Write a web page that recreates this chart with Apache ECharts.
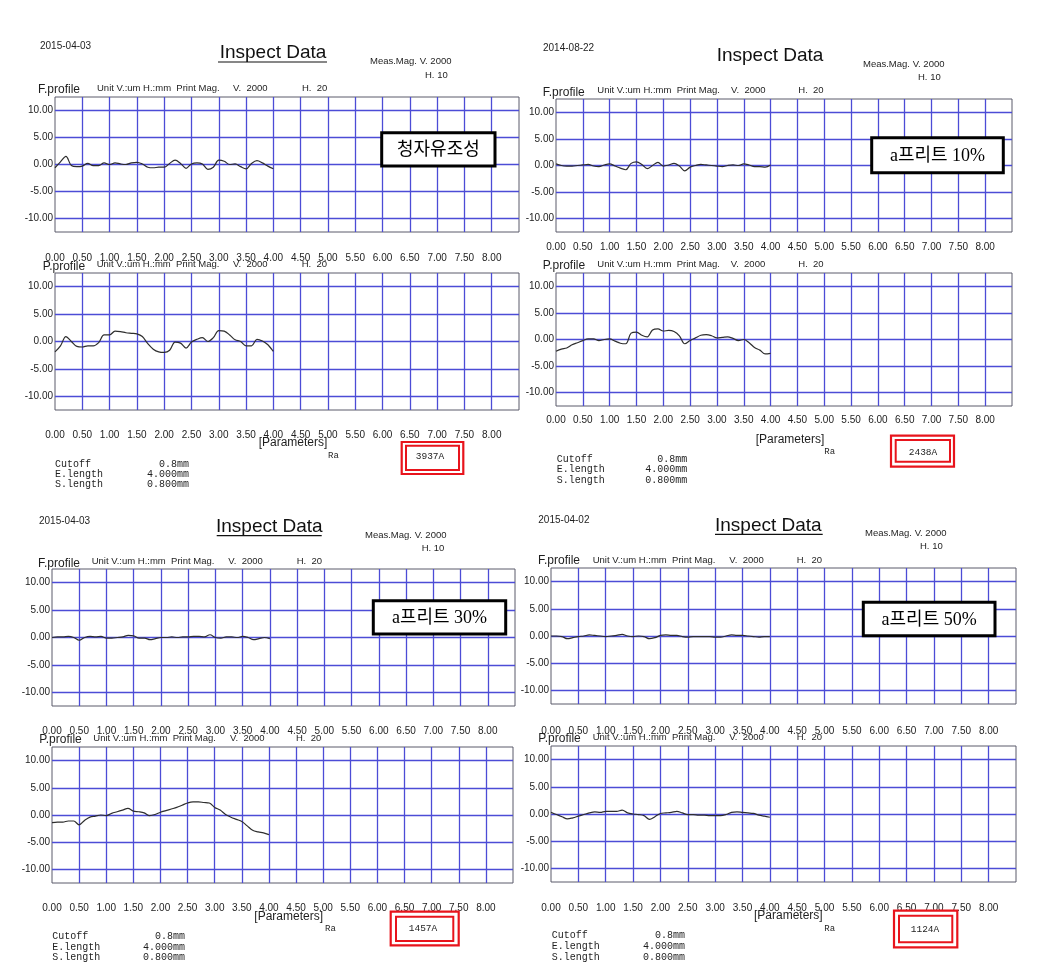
<!DOCTYPE html>
<html>
<head>
<meta charset="utf-8">
<title>Inspect Data</title>
<script src="https://cdn.jsdelivr.net/npm/echarts@6/dist/echarts.min.js"></script>
<style>
  html, body { margin: 0; padding: 0; background: #fff; }
  #profileChart { width: 1039px; height: 974px; }
</style>
</head>
<body>
<div id="profileChart"></div>
<script>
// position along the measured length (mm)
const distance = [0.0, 0.1, 0.2, 0.3, 0.4, 0.5, 0.6, 0.7, 0.8, 0.9,
  1.0, 1.1, 1.2, 1.3, 1.4, 1.5, 1.6, 1.7, 1.8, 1.9,
  2.0, 2.1, 2.2, 2.3, 2.4, 2.5, 2.6, 2.7, 2.8, 2.9,
  3.0, 3.1, 3.2, 3.3, 3.4, 3.5, 3.6, 3.7, 3.8, 3.9, 4.0];
const yTicks = [-10, -5, 0, 5, 10];

// 청자유조성
const fProfile1 = [-0.6, 0.5, 1.5, -0.2, -0.4, -0.3, 0.2, -0.2, -0.2, 0.3,
  0.0, 0.3, 0.1, 0.0, 0.3, 0.4, 0.1, -0.5, -0.6, -0.5,
  -0.5, 0.2, 0.8, 0.2, -0.7, 0.1, 0.3, 0.1, -0.9, -0.5,
  0.8, 0.6, 0.0, 0.1, -0.4, -0.8, 0.2, 0.7, 0.3, -0.3, -0.8];
const pProfile1 = [-1.9, -0.8, 0.9, 0.0, -0.9, -1.0, -0.8, -0.8, -0.2, 1.2,
  1.2, 1.9, 1.8, 1.6, 1.5, 1.4, 0.9, -0.4, -1.4, -1.9,
  -2.0, -1.6, -0.1, -0.3, -1.2, -0.1, 0.4, 0.7, 0.0, 0.7,
  2.0, 1.9, 1.2, 0.3, 0.0, -0.8, -0.8, 0.4, 0.1, -0.6, -1.8];
// a프리트 10%
const fProfile2 = [0.3, 0.0, -0.1, -0.1, 0.0, 0.1, 0.2, -0.1, -0.2, 0.1,
  0.3, -0.1, -0.5, -0.8, 0.4, 0.7, 0.2, -0.6, 0.0, 0.6,
  -0.1, 0.1, 0.4, -0.1, -1.0, -0.3, 0.0, 0.2, 0.1, 0.0,
  -0.1, -0.2, 0.0, 0.1, 0.0, 0.3, 0.1, -0.2, -0.2, -0.3, 0.1];
const pProfile2 = [-2.2, -1.8, -1.6, -1.0, -0.6, -0.2, 0.1, 0.1, -0.2, 0.0,
  0.1, -0.3, -0.7, -0.8, 1.2, 1.4, 0.8, 0.5, 1.8, 2.0,
  1.6, 1.7, 1.5, 0.7, -0.8, -0.2, 0.3, 0.8, 0.9, 0.7,
  0.3, 0.4, 0.5, 0.2, -0.2, 0.0, -0.6, -1.5, -2.0, -2.7, -2.6];
// a프리트 30%
const fProfile3 = [0.0, 0.1, 0.1, 0.2, 0.0, -0.5, 0.0, 0.2, 0.1, 0.2,
  -0.1, -0.1, 0.0, 0.1, 0.4, 0.3, -0.1, -0.1, -0.4, -0.2,
  0.0, 0.0, 0.1, 0.0, 0.1, 0.1, 0.2, 0.2, 0.1, 0.5,
  0.0, -0.1, 0.1, 0.1, 0.0, 0.2, 0.0, -0.4, -0.2, 0.0, -0.2];
const pProfile3 = [-1.4, -1.3, -1.3, -1.1, -1.1, -1.8, -1.0, -0.4, -0.2, 0.0,
  -0.1, 0.3, 0.6, 0.9, 1.2, 0.7, 0.6, 0.4, -0.1, 0.1,
  0.5, 0.8, 1.1, 1.4, 1.8, 2.2, 2.4, 2.4, 2.3, 2.2,
  1.4, 0.9, 0.1, -0.4, -0.8, -1.2, -2.0, -2.8, -3.1, -3.3, -3.6];
// a프리트 50%
const fProfile4 = [0.0, 0.0, -0.1, -0.5, -0.3, -0.1, 0.0, 0.2, 0.1, 0.0,
  -0.1, 0.0, 0.1, 0.3, 0.0, -0.1, 0.0, -0.1, -0.5, -0.3,
  0.1, 0.2, 0.1, 0.1, -0.1, -0.2, -0.1, -0.1, -0.1, -0.1,
  -0.2, -0.2, 0.0, 0.2, 0.1, 0.1, 0.0, -0.1, -0.2, -0.1, -0.1];
const pProfile4 = [0.3, -0.1, -0.5, -0.9, -0.7, -0.4, -0.1, 0.2, 0.4, 0.3,
  0.5, 0.5, 0.5, 0.7, 0.2, 0.0, -0.1, -0.3, -1.0, -0.5,
  0.1, 0.2, 0.3, 0.5, 0.2, -0.1, -0.1, -0.2, -0.2, -0.3,
  -0.3, -0.3, -0.1, 0.3, 0.4, 0.3, 0.2, 0.1, -0.2, -0.4, -0.6];

const sampleNames = ['청자유조성', 'a프리트 10%', 'a프리트 30%', 'a프리트 50%'];
const dates = ['2015-04-03', '2014-08-22', '2015-04-03', '2015-04-02'];
const raValues = ['3937A', '2438A', '1457A', '1124A'];
const fProfiles = [fProfile1, fProfile2, fProfile3, fProfile4];
const pProfiles = [pProfile1, pProfile2, pProfile3, pProfile4];

// where each scanned sheet sits on the page
const layouts = [
  {
    date: [40, 46.5], title: [273, 53], underline: [218, 327, 62], meas: [370, 61.5], h10: [425, 75],
    fHead: {y: 90, unitY: 88, x: [38, 97, 233, 302]},
    pHead: {y: 266.7, unitY: 264.3, x: [42.7, 96.7, 233, 301.7]},
    fGrid: {left: 55, top: 97, width: 464, height: 135, margin: 21},
    pGrid: {left: 55, top: 273, width: 464, height: 137, margin: 20},
    params: [293, 443], ra: [328, 456],
    redBox: [401.7, 442, 61.6, 32], innerBox: [406, 445.7, 53, 24.3], raText: [430, 456.7],
    cutoff: {x: 55, valueX: 189, y: [464, 474.3, 484.5]},
    nameBox: [381.7, 132.7, 113.3, 33.3]
  },
  {
    date: [543, 48], title: [770, 56], underline: null, meas: [863, 64], h10: [918, 77],
    fHead: {y: 92.3, unitY: 90, x: [542.7, 597.3, 731, 798.3]},
    pHead: {y: 265.7, unitY: 264.7, x: [542.7, 597.3, 730.7, 798.3]},
    fGrid: {left: 556, top: 99, width: 456, height: 133, margin: 10},
    pGrid: {left: 556, top: 273, width: 456, height: 133, margin: 9},
    params: [790, 439.3], ra: [824.3, 452],
    redBox: [891, 435.7, 63, 31], innerBox: [895.7, 440, 54.3, 21.7], raText: [923, 452],
    cutoff: {x: 556.7, valueX: 687.3, y: [459.3, 469.7, 480]},
    nameBox: [871.7, 137.7, 131.6, 35]
  },
  {
    date: [39, 521.7], title: [269.3, 526.7], underline: [216.7, 321.7, 535.7], meas: [365, 535.7], h10: [421.7, 548],
    fHead: {y: 563.3, unitY: 561.7, x: [38, 91.7, 228.3, 296.7]},
    pHead: {y: 740, unitY: 738.3, x: [39.3, 93.3, 230, 296]},
    fGrid: {left: 52, top: 569, width: 463, height: 137, margin: 20},
    pGrid: {left: 52, top: 747, width: 461, height: 136, margin: 20},
    params: [288.7, 916.7], ra: [325, 929],
    redBox: [390.7, 911.7, 68, 33.6], innerBox: [396, 916.7, 57.3, 24.3], raText: [423, 928.3],
    cutoff: {x: 52.3, valueX: 185, y: [936, 947.3, 957.3]},
    nameBox: [373.3, 600.7, 132.4, 33.3]
  },
  {
    date: [538.3, 520], title: [768.3, 525.7], underline: [715, 822.7, 534.3], meas: [865, 533.3], h10: [920, 546.7],
    fHead: {y: 561, unitY: 560, x: [538, 592.7, 729.3, 796.7]},
    pHead: {y: 739, unitY: 737.7, x: [538.3, 592.7, 729.3, 796.7]},
    fGrid: {left: 551, top: 568, width: 465, height: 136, margin: 22},
    pGrid: {left: 551, top: 746, width: 465, height: 136, margin: 21},
    params: [788.3, 915.7], ra: [824.3, 928.3],
    redBox: [894, 910.7, 63.3, 36.6], innerBox: [899, 915.7, 53.3, 26.6], raText: [925, 929],
    cutoff: {x: 551.7, valueX: 685, y: [935.7, 946.7, 957]},
    nameBox: [863.3, 602.3, 131.7, 33.4]
  }
];

const SANS = "'Liberation Sans', Arial, sans-serif";
const MONO = "'Liberation Mono', 'DejaVu Sans Mono', monospace";
const gridColor = '#4c4cd6';

function txt(x, y, text, size, opts) {
  opts = opts || {};
  return {
    type: 'text', x: x, y: y, z: 50,
    style: {
      text: text,
      fill: opts.color || '#1e1e1e',
      font: (opts.weight || 'normal') + ' ' + size + 'px ' + (opts.family || SANS),
      align: opts.align || 'left', textAlign: opts.align || 'left',
      verticalAlign: 'middle', textVerticalAlign: 'middle'
    }
  };
}

function box(r, color, width) {
  return {
    type: 'rect', z: 60,
    shape: {x: r[0], y: r[1], width: r[2], height: r[3]},
    style: {fill: 'none', stroke: color, lineWidth: width}
  };
}

let grids = [], xAxes = [], yAxes = [], series = [], graphics = [];

function addPlot(g, values) {
  let idx = grids.length;
  grids.push({
    left: g.left, top: g.top, width: g.width, height: g.height,
    show: true, borderColor: '#5a5a6a', borderWidth: 1, backgroundColor: '#fff'
  });
  xAxes.push({
    type: 'value', gridIndex: idx, min: 0, max: 8.5, interval: 0.5,
    axisLine: {show: false}, axisTick: {show: false},
    axisLabel: {
      margin: g.margin, color: '#222', fontSize: 10, fontFamily: SANS,
      formatter: v => (v <= 8 ? v.toFixed(2) : '')
    },
    splitLine: {show: true, showMinLine: false, showMaxLine: false, lineStyle: {color: gridColor, width: 1.3}}
  });
  yAxes.push({
    type: 'value', gridIndex: idx, min: -12.5, max: 12.5,
    axisLine: {show: false},
    axisTick: {show: false, customValues: yTicks},
    axisLabel: {
      customValues: yTicks, margin: 2, color: '#222', fontSize: 10, fontFamily: SANS,
      formatter: v => v.toFixed(2)
    },
    splitLine: {show: true, lineStyle: {color: gridColor, width: 1.3}}
  });
  series.push({
    type: 'line', xAxisIndex: idx, yAxisIndex: idx,
    data: distance.map((d, i) => [d, values[i]]),
    showSymbol: false, smooth: 0.35, silent: true,
    lineStyle: {color: '#2e2e2e', width: 1.2}
  });
}

layouts.forEach((L, k) => {
  addPlot(L.fGrid, fProfiles[k]);
  addPlot(L.pGrid, pProfiles[k]);

  graphics.push(txt(L.date[0], L.date[1], dates[k], 10));
  graphics.push(txt(L.title[0], L.title[1], 'Inspect Data', 19, {align: 'center', color: '#111'}));
  if (L.underline) {
    graphics.push({
      type: 'line', z: 50,
      shape: {x1: L.underline[0], y1: L.underline[2], x2: L.underline[1], y2: L.underline[2]},
      style: {stroke: '#111', lineWidth: 1.2}
    });
  }
  graphics.push(txt(L.meas[0], L.meas[1], 'Meas.Mag. V. 2000', 9.5));
  graphics.push(txt(L.h10[0], L.h10[1], 'H. 10', 9.5));

  [[L.fHead, 'F.profile'], [L.pHead, 'P.profile']].forEach(([h, name]) => {
    graphics.push(txt(h.x[0], h.y, name, 12));
    graphics.push(txt(h.x[1], h.unitY, 'Unit V.:um H.:mm  Print Mag.', 9.5));
    graphics.push(txt(h.x[2], h.unitY, 'V.  2000', 9.5));
    graphics.push(txt(h.x[3], h.unitY, 'H.  20', 9.5));
  });

  graphics.push(txt(L.params[0], L.params[1], '[Parameters]', 12, {align: 'center'}));
  graphics.push(txt(L.ra[0], L.ra[1], 'Ra', 9, {family: MONO}));
  graphics.push(box(L.redBox, '#e8141c', 2.2));
  graphics.push(box(L.innerBox, '#e8141c', 2));
  graphics.push(txt(L.raText[0], L.raText[1], raValues[k], 9.5, {family: MONO, align: 'center'}));

  let c = L.cutoff;
  [['Cutoff', '0.8mm'], ['E.length', '4.000mm'], ['S.length', '0.800mm']].forEach(([label, val], i) => {
    graphics.push(txt(c.x, c.y[i], label, 10, {family: MONO}));
    graphics.push(txt(c.valueX, c.y[i], val, 10, {family: MONO, align: 'right'}));
  });

  // sample name label drawn over the F.profile plot
  let nb = L.nameBox;
  graphics.push({
    type: 'rect', z: 70,
    shape: {x: nb[0], y: nb[1], width: nb[2], height: nb[3]},
    style: {fill: '#fff', stroke: '#000', lineWidth: 3}
  });
  let t = txt(nb[0] + nb[2] / 2, nb[1] + nb[3] / 2 + 1, sampleNames[k], 18,
    {align: 'center', color: '#000', family: "'Liberation Serif', 'Noto Sans CJK KR', serif"});
  t.z = 80;
  graphics.push(t);
});

let chartContainer = document.getElementById('profileChart');
let myChart = echarts.init(chartContainer, null, {renderer: 'canvas'});
let option = {
  backgroundColor: '#fff',
  animation: false,
  grid: grids,
  xAxis: xAxes,
  yAxis: yAxes,
  series: series,
  graphic: {elements: graphics}
};
myChart.setOption(option);
</script>
</body>
</html>
